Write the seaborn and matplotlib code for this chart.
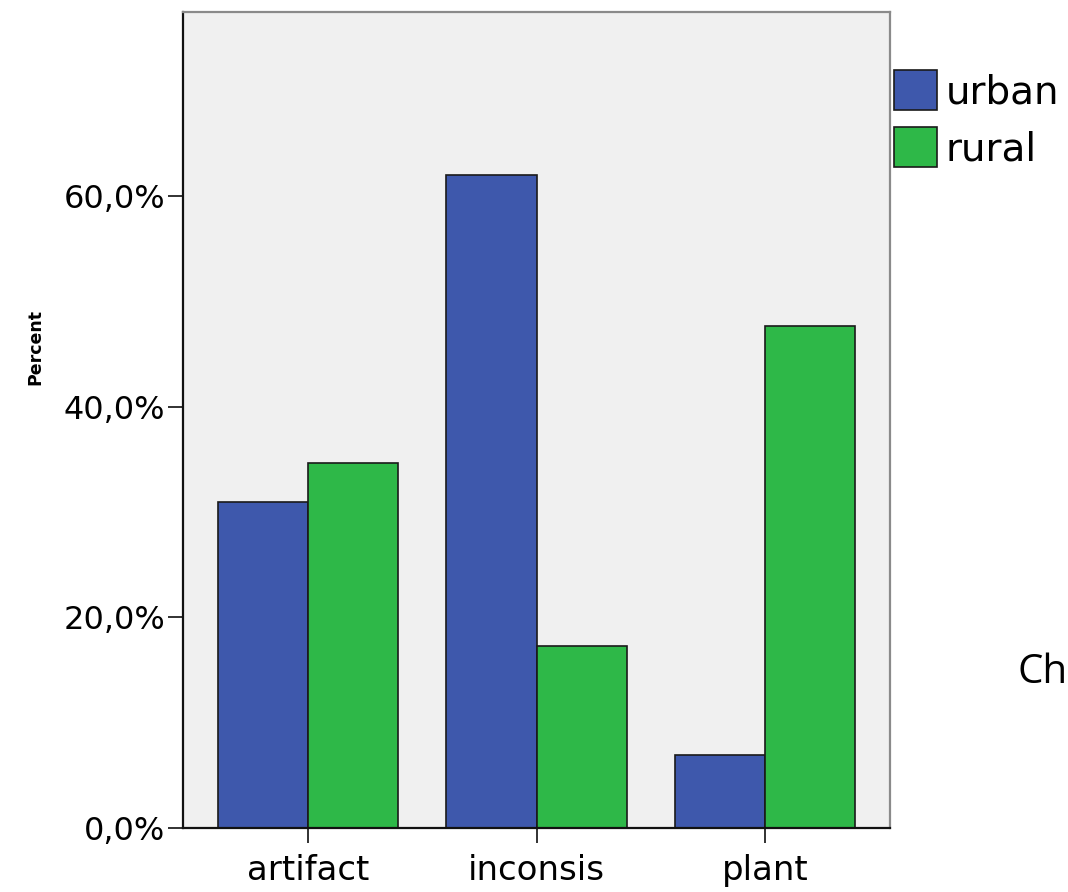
import matplotlib
matplotlib.use("Agg")
import matplotlib.pyplot as plt
import seaborn as sns
import pandas as pd
from matplotlib.ticker import FuncFormatter
from matplotlib.patches import Patch

# Category labels, groups and percentages per group
categories = ["artifact", "inconsis", "plant"]
groups = ["urban", "rural"]
urban_pct = [31.0, 62.0, 6.9]
rural_pct = [34.7, 17.3, 47.7]
yticks = [0, 20, 40, 60]

palette = {"urban": "#3E58AC", "rural": "#2EB848"}

df = pd.DataFrame({
    "category": categories * 2,
    "group": [groups[0]] * len(categories) + [groups[1]] * len(categories),
    "percent": urban_pct + rural_pct,
})

sns.set_style("white")
plt.rcParams["font.family"] = ["DejaVu Sans"]
plt.rcParams["text.color"] = "black"
plt.rcParams["xtick.color"] = "black"
plt.rcParams["ytick.color"] = "black"
plt.rcParams["xtick.labelcolor"] = "black"
plt.rcParams["ytick.labelcolor"] = "black"

fig = plt.figure(figsize=(10.68, 8.92), dpi=100)
ax = fig.add_axes([183 / 1068, 64 / 892, 707 / 1068, 816 / 892])
ax.set_facecolor("#F0F0F0")

sns.barplot(data=df, x="category", y="percent", hue="group",
            order=categories, hue_order=groups, palette=palette,
            width=0.79, gap=0, edgecolor="#1a1a1a", linewidth=1.2,
            errorbar=None, saturation=1, ax=ax, legend=False)

ax.set_xlim(-0.546, 2.546)
ax.set_ylim(0, 77.5)
ax.set_yticks(yticks)
ax.yaxis.set_major_formatter(FuncFormatter(lambda v, p: f"{v:.1f}%".replace(".", ",")))

ax.tick_params(axis="both", which="major", direction="out", length=11,
               width=1.3, color="#222222", labelcolor="black", left=True, bottom=True)
ax.tick_params(axis="y", labelsize=23, pad=2)
ax.tick_params(axis="x", labelsize=24.5, pad=8)

for side in ("left", "bottom"):
    ax.spines[side].set_color("#111111")
    ax.spines[side].set_linewidth(1.6)
for side in ("top", "right"):
    ax.spines[side].set_color("#8a8a8a")
    ax.spines[side].set_linewidth(1.6)

ax.set_xlabel("")
ax.set_ylabel("")
fig.text(35 / 1068, 1 - 347 / 892, "Percent", rotation=90, fontsize=12.5,
         fontweight="bold", ha="center", va="center", color="black")

# Legend outside the plot frame on the right
handles = [Patch(facecolor=palette[g], edgecolor="#1a1a1a", linewidth=1.2, label=g)
           for g in groups]
leg = fig.legend(handles=handles, loc="upper left",
                 bbox_to_anchor=(894 / 1068, 1 - 70 / 892),
                 frameon=False, fontsize=28, handlelength=1.1, handleheight=1.2,
                 handletextpad=0.22, labelspacing=0.42, borderpad=0, borderaxespad=0)
for t in leg.get_texts():
    t.set_color("black")

fig.text(1018 / 1068, 1 - 673 / 892, "Ch", fontsize=29, family=["Open Sans", "DejaVu Sans"],
         ha="left", va="center", color="black")

fig.savefig("out.png", dpi=100)
